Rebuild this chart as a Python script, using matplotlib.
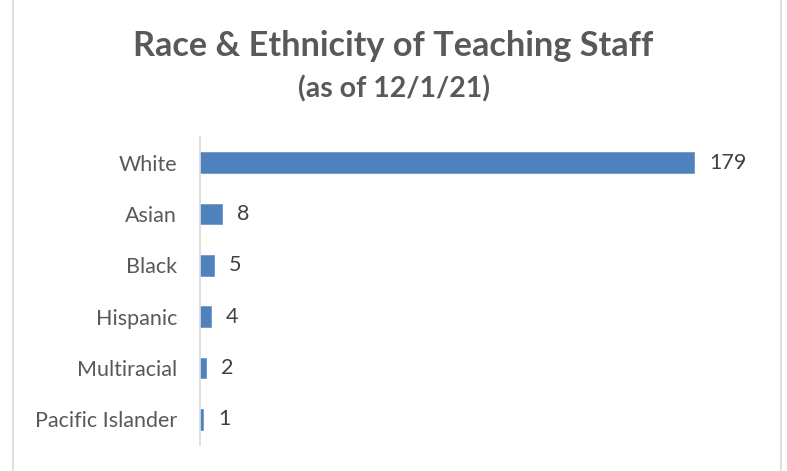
import matplotlib.pyplot as plt
from matplotlib.patches import Rectangle

categorias = ['White', 'Asian', 'Black', 'Hispanic', 'Multiracial', 'Pacific Islander']
valores = [179, 8, 5, 4, 2, 1]

plt.rcParams['font.family'] = ['Lato', 'DejaVu Sans']

fig = plt.figure(figsize=(7.87, 4.71), dpi=100)
ax = fig.add_axes([200 / 787, 1 - 445 / 471, 552 / 787, 308 / 471])

pos = list(range(len(categorias)))
ax.barh(pos, valores, height=0.4, color='#4F81BD', edgecolor='#6F98CC', linewidth=0.6)
ax.set_ylim(len(categorias) - 0.5, -0.5)
ax.set_xlim(0, 200)
ax.set_yticks(pos)
ax.set_yticklabels(categorias, fontsize=15.5, color='#595959')
ax.tick_params(axis='y', length=0, pad=16.5)
ax.set_xticks([])

for p, v in zip(pos, valores):
    ax.text(v + 5.5, p, str(v), va='center', ha='left', fontsize=15.5, color='#404040')

for s in ['top', 'right', 'bottom']:
    ax.spines[s].set_visible(False)
ax.spines['left'].set_color('#D9D9D9')
ax.spines['left'].set_linewidth(1.2)

fig.text(0.5, 1 - 46 / 471, 'Race & Ethnicity of Teaching Staff', ha='center', va='center',
         fontsize=24.7, fontweight='bold', color='#595959')
fig.text(0.5, 1 - 89 / 471, '(as of 12/1/21)', ha='center', va='center',
         fontsize=20.5, fontweight='bold', color='#595959')

# marco del grafico (solo se ven los lados)
fig.add_artist(Rectangle((13 / 787, -0.05), (781 - 13) / 787, 1.1, transform=fig.transFigure,
                         fill=False, edgecolor='#D9D9D9', linewidth=1.2))

fig.savefig('out.png', dpi=100)
